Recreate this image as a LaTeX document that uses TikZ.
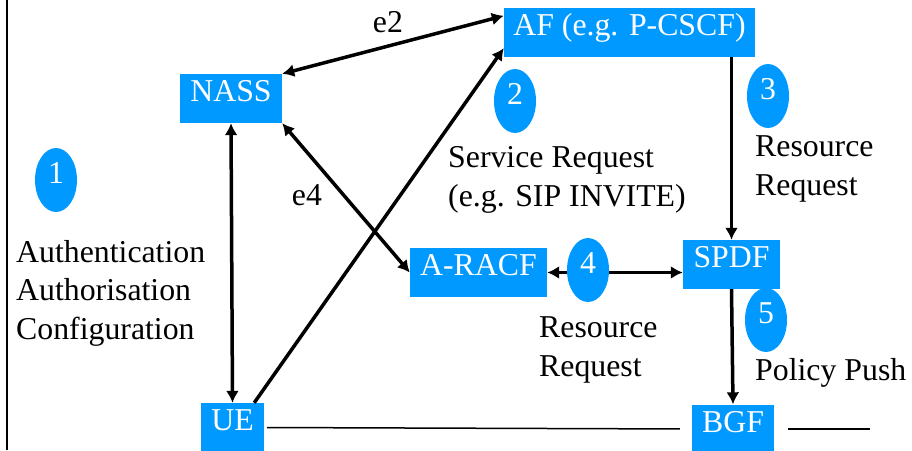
\documentclass[tikz,border=0pt]{standalone}
\usepackage{fontspec}
\setmainfont{Liberation Serif}
\usetikzlibrary{arrows.meta,shapes.geometric,calc}
\definecolor{boxblue}{RGB}{0,153,255}
\tikzset{
  netbox/.style={fill=boxblue, text=white, inner sep=0pt, minimum height=49pt,
    text height=0.66em, text depth=0pt},
  stepnum/.style={ellipse, fill=boxblue, text=white, inner sep=0pt,
    minimum width=42pt, minimum height=64pt, text height=0.66em, text depth=0pt},
  msg/.style={anchor=base west, inner sep=0pt, align=left},
  iface/.style={anchor=base, inner sep=0pt},
  sig/.style={line width=3.5pt, {Latex[length=12pt,width=13pt]}-{Latex[length=12pt,width=13pt]}},
  sigone/.style={line width=3.5pt, -{Latex[length=12pt,width=13pt]}},
  plain/.style={line width=1.5pt}
}
\begin{document}
\begin{tikzpicture}[x=1pt, y=-1pt, font=\fontsize{31.8}{38.5}\selectfont]
\useasboundingbox (0,0) rectangle (912,450);
\draw[line width=2pt] (7,0) -- (7,450);

% network elements
\node[netbox, minimum width=251pt] (af) at (629.5,32.5) {AF (e.g. P-CSCF)};
\node[netbox, minimum width=102pt] (nass) at (231,98.5) {NASS};
\node[netbox, minimum width=137pt] (aracf) at (478.5,272.5) {A-RACF};
\node[netbox, minimum width=97pt] (spdf) at (731.5,264.5) {SPDF};
\node[netbox, minimum width=63pt] (ue) at (232.5,427.5) {UE};
\node[netbox, minimum width=82pt] (bgf) at (733,429) {BGF};
\coordinate (edge) at (870,429);

% interfaces
\draw[sig] (nass.north east) -- ($(af.north west)+(0,8)$);
\draw[sig] (nass.south) -- (ue.north);
\draw[sig] (nass.south east) -- (aracf.west);
\draw[sigone] ($(ue.north east)+(-10,0)$) -- ($(af.south west)+(0,-9)$);
\draw[sig] (aracf.east) -- (aracf.east -| spdf.west);
\draw[sigone] (spdf.north |- af.south) -- (spdf.north);
\draw[sigone] (spdf.south) -- (bgf.north);
\draw[plain, shorten <=3pt, shorten >=12pt] (ue.east) -- (bgf.west);
\draw[plain, shorten <=14pt] (bgf.east) -- (edge);

\node[iface] (e2) at (388,32) {e2};
\node[iface] (e4) at (307,205) {e4};

% steps
\node[stepnum] (s1) at (56,180) {1};
\node[stepnum] (s2) at (515,101) {2};
\node[stepnum] (s3) at (768,96) {3};
\node[stepnum] (s4) at (588,270) {4};
\node[stepnum] (s5) at (766,320) {5};

% base = last line
\node[msg] (aac) at (16,339) {Authentication\\Authorisation\\Configuration};
\node[msg] (svc) at (448,206) {Service Request\\(e.g. SIP INVITE)};
\node[msg] (res3) at (755,195) {Resource\\Request};
\node[msg] (res4) at (539,376) {Resource\\Request};
\node[msg] (push) at (755,380) {Policy Push};
\end{tikzpicture}
\end{document}
